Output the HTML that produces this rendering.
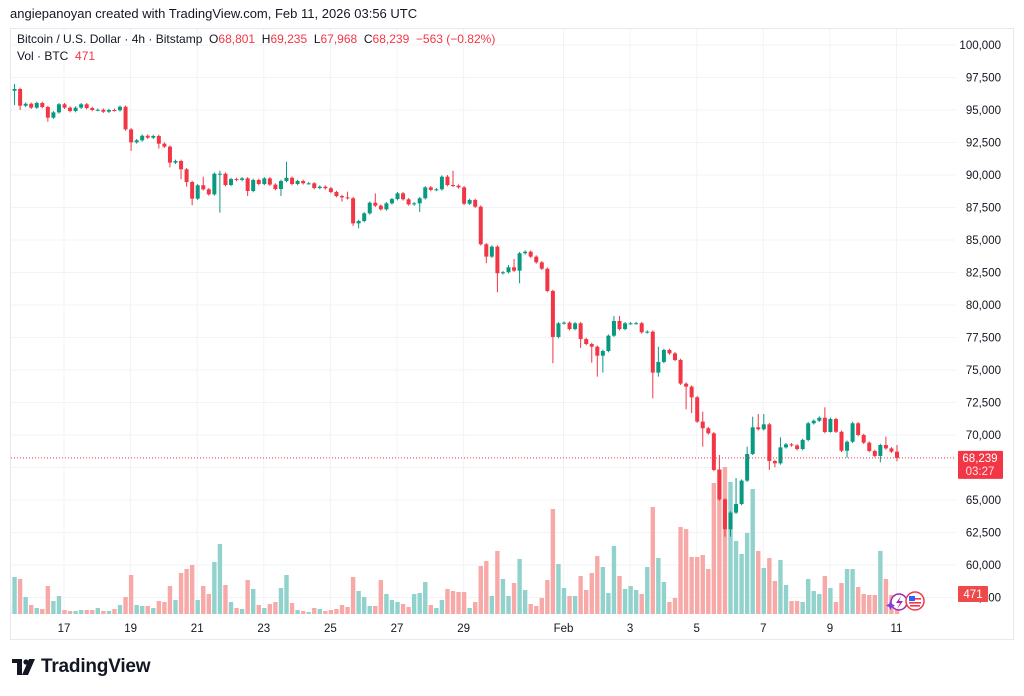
<!DOCTYPE html>
<html><head><meta charset="utf-8">
<style>
html,body{margin:0;padding:0;background:#fff;}
body{width:1024px;height:696px;overflow:hidden;position:relative;font-family:"Liberation Sans",sans-serif;}
#hdr{position:absolute;left:10px;top:6px;font-size:13px;color:#131722;}
#frame{position:absolute;left:10px;top:28px;width:1004px;height:612px;border:1px solid #e6e9ef;box-sizing:border-box;}
#leg1{position:absolute;left:17px;top:32px;font-size:12px;color:#131722;white-space:pre;}
#leg2{position:absolute;left:17px;top:49px;font-size:12px;color:#131722;}
.r{color:#f23645;}
#logo{position:absolute;left:12px;top:656px;display:flex;align-items:center;}
#logo span{font-size:19px;font-weight:bold;color:#131722;margin-left:5px;letter-spacing:-0.2px;}
svg{position:absolute;left:0;top:0;}
</style></head>
<body>
<div id="hdr">angiepanoyan created with TradingView.com, Feb 11, 2026 03:56 UTC</div>
<div id="frame"></div>
<svg id="chart" width="1024" height="696"></svg>
<div id="leg1">Bitcoin / U.S. Dollar · 4h · Bitstamp  O<span class="r">68,801</span>  H<span class="r">69,235</span>  L<span class="r">67,968</span>  C<span class="r">68,239</span>  <span class="r">−563 (−0.82%)</span></div>
<div id="leg2">Vol · BTC <span class="r">&nbsp;471</span></div>
<div id="logo">
<svg width="24" height="16" viewBox="0 0 24 16" style="position:static"><rect x="0" y="0" width="10" height="4" fill="#131722"/><rect x="5" y="0" width="5" height="16" fill="#131722"/><circle cx="14" cy="3" r="2.6" fill="#131722"/><polygon points="17,0 23,0 16,16 10,16" fill="#131722"/></svg>
<span>TradingView</span></div>
<script>
const closes=[96480,96615,95330,95480,95180,95540,95230,94410,94820,95440,95180,94920,95180,95440,95150,95000,95020,94870,95000,94980,95250,93510,92510,92670,93020,92870,93000,92410,92180,90950,91080,90440,89460,88180,89210,88900,88510,90100,90100,89230,89690,89620,89740,88770,89620,89310,89740,89260,88920,89540,89790,89310,89540,89360,89360,89000,89100,88980,88690,88380,88280,88210,86280,86460,87050,87870,87640,87360,87820,88150,88590,88130,87740,87820,88210,89050,88850,88900,89870,89230,89180,89050,87790,88080,87560,84670,83720,84490,82440,82520,82900,82640,83980,84100,83720,83280,82790,81080,77540,78590,78640,78150,78590,77380,77000,76790,76100,76460,77640,78770,78150,78590,78590,78600,77900,77950,74800,75620,76540,76280,75770,73950,73720,72900,71030,70520,70130,67310,65050,62750,64030,64690,66490,68540,70590,70440,70820,68000,67820,69050,69280,69200,68920,69620,70900,71100,71330,70230,71230,70250,68790,69480,70900,70000,69410,68770,68390,69230,68970,68720,68239];
const firstOpen=96550;
const highs={1:97000,35:89870,38:90330,50:91020,61:88720,66:88590,79:90000,80:90330,90:83080,91:83540,109:79150,110:79150,117:76790,125:71790,128:68460,131:66690,133:69100,134:71410,135:71610,136:71610,139:69820,147:72130,152:71030,158:69870,160:69235};
const lows={1:95380,2:95000,7:94100,22:91850,27:92030,29:90590,31:89670,32:89100,33:87670,38:87100,43:88380,49:88380,60:87950,62:86080,63:85900,74:87150,86:83210,88:80980,92:81670,98:75520,103:76690,105:75560,106:74490,107:74800,116:72820,117:74490,122:71980,123:71690,125:69100,129:62180,130:62180,131:63920,134:68460,137:67310,138:67520,148:70180,151:68250,157:67900,160:67968};
const volumes=[9,37,35,17,9,6,5,28,13,18,4,3,3,4,4,4,6,3,3,5,9,17,39,9,8,8,6,13,12,28,14,41,45,49,14,28,20,52,70,29,12,6,5,34,25,9,6,10,12,26,39,11,4,3,2,6,5,3,4,5,9,7,37,23,17,8,8,34,20,14,12,10,7,20,21,32,9,6,14,25,23,22,22,6,12,48,53,18,63,35,18,31,55,24,10,8,16,34,105,50,26,18,18,38,24,41,58,47,21,68,38,25,28,24,20,47,107,56,32,12,16,87,85,57,57,59,45,131,145,147,132,73,60,81,125,63,46,56,33,54,29,13,13,12,35,23,20,38,26,12,31,45,45,27,20,19,19,63,35,19,9];
const priceTicks=[100000,97500,95000,92500,90000,87500,85000,82500,80000,77500,75000,72500,70000,67500,65000,62500,60000,57500];
const dateLabels=["17","19","21","23","25","27","29","Feb","3","5","7","9","11"];
const dateDays=[17,19,21,23,25,27,29,32,34,36,38,40,42];
const lastPrice=68239, lastVol=471;

const NS="http://www.w3.org/2000/svg";
const svg=document.getElementById('chart');
const X0=9, STEP=5.55, PLEFT=11, PRIGHT=955, VBASE=614;
function xOf(i){return X0+STEP*i;}
function yOf(p){return 45+(100000-p)*0.013;}
function xOfDay(d){return xOf(9.91+6*(d-17));}
function vh(v){return v;}
function fmt(n){return n.toLocaleString('en-US');}
function el(tag,attrs,parent){const e=document.createElementNS(NS,tag);for(const k in attrs)e.setAttribute(k,attrs[k]);(parent||svg).appendChild(e);return e;}

// clip
const defs=el('defs',{});
const cp=el('clipPath',{id:'pane'},defs);
el('rect',{x:PLEFT,y:29,width:PRIGHT-PLEFT,height:586},cp);

// grid
const grid=el('g',{});


priceTicks.forEach(p=>{const y=yOf(p);if(y<30||y>614)return;el('line',{x1:PLEFT,x2:PRIGHT,y1:y,y2:y,stroke:'#f2f3f6','stroke-width':1},grid);});
dateDays.forEach(d=>{const x=xOfDay(d);el('line',{x1:x,x2:x,y1:29,y2:615,stroke:'#f2f3f6','stroke-width':1},grid);});

// volume
const vg=el('g',{'clip-path':'url(#pane)'});


volumes.forEach((v,i)=>{
  const o=i===0?firstOpen:closes[i-1];const up=closes[i]>=o;
  const h=vh(v);
  const b=el('rect',{x:xOf(i)-2.2,y:VBASE-h,width:4.4,height:h,fill:up?'#92d2cc':'#f7a9a7'},vg);
  
  
});

// candles
const cg=el('g',{'clip-path':'url(#pane)'});


closes.forEach((c,i)=>{
  const o=i===0?firstOpen:closes[i-1];const up=c>=o;const col=up?'#089981':'#f23645';
  const top=Math.max(o,c), bot=Math.min(o,c);
  const hi=highs[i]!==undefined?highs[i]:top+100, lo=lows[i]!==undefined?lows[i]:bot-100;
  const x=xOf(i);
  const g=el('g',{},cg);
  
  
  el('line',{x1:x,x2:x,y1:yOf(hi),y2:yOf(lo),stroke:col,'stroke-width':1},g);
  const y1=yOf(top), y2=yOf(bot);
  el('rect',{x:x-2,y:y1,width:4,height:Math.max(1,y2-y1),fill:col},g);
});

// last price line
const ly=yOf(lastPrice);
const pl=el('line',{x1:PLEFT,x2:PRIGHT,y1:ly,y2:ly,stroke:'#f23645','stroke-width':1,'stroke-dasharray':'1 2'});



// price axis
const pa=el('g',{});


priceTicks.forEach(p=>{const y=yOf(p);if(y<30||y>614)return;
  const t=el('text',{x:1001,y:y+4,'text-anchor':'end','font-size':'11.5',fill:'#131722','font-family':'Liberation Sans, sans-serif'},pa);
  t.textContent=fmt(p);
  
  
});
const lb=el('g',{});


el('rect',{x:958,y:ly-7,width:45,height:28,rx:1,fill:'#f23645'},lb);
const t1=el('text',{x:980,y:ly+4,'text-anchor':'middle','font-size':'11.5',fill:'#fff','font-family':'Liberation Sans, sans-serif'},lb);t1.textContent=fmt(lastPrice);
const t2=el('text',{x:980,y:ly+17,'text-anchor':'middle','font-size':'11.5',fill:'#fde3e4','font-family':'Liberation Sans, sans-serif'},lb);t2.textContent='03:27';
const vb=el('g',{});


el('rect',{x:958,y:586,width:30,height:16,rx:1,fill:'#ef4a4a'},vb);
const t3=el('text',{x:973,y:598,'text-anchor':'middle','font-size':'11.5',fill:'#fff','font-family':'Liberation Sans, sans-serif'},vb);t3.textContent=String(lastVol);

// time axis
const ta=el('g',{});


dateLabels.forEach((s,k)=>{
  const t=el('text',{x:xOfDay(dateDays[k]),y:632,'text-anchor':'middle','font-size':'11.5',fill:'#131722','font-family':'Liberation Sans, sans-serif'},ta);
  t.textContent=s;
  
  
});

// event icons
const ic=el('g',{});


el('circle',{cx:899,cy:602,r:8,fill:'#fff',stroke:'#9c27b0','stroke-width':1.5},ic);
el('path',{d:'M901 596 L896 603 L900 603 L897 609 L903 601 L899 601 Z',fill:'#9c27b0'},ic);
el('path',{d:'M889 604 l1.5 -3 l1.5 3 l3 1.5 l-3 1.5 l-1.5 3 l-1.5 -3 l-3 -1.5 Z',fill:'#7b3fe4'},ic);
el('circle',{cx:915,cy:601,r:9,fill:'#fff',stroke:'#f23645','stroke-width':1.5},ic);
el('rect',{x:909,y:595,width:12,height:12,rx:5,fill:'#fff'},ic);
el('rect',{x:909,y:596,width:6,height:5,fill:'#2962ff'},ic);
el('rect',{x:909,y:602,width:12,height:1.6,fill:'#f23645'},ic);
el('rect',{x:915,y:598,width:6,height:1.6,fill:'#f23645'},ic);
el('rect',{x:910,y:605,width:10,height:1.6,fill:'#f23645'},ic);
</script>
</body></html>
